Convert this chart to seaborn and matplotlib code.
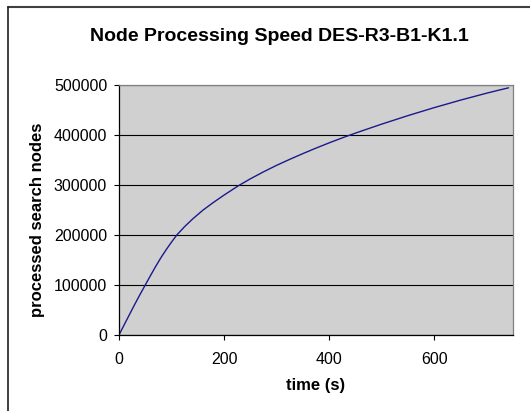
import pandas as pd
import matplotlib
matplotlib.use('Agg')
import matplotlib.pyplot as plt
import seaborn as sns

# values
time_s = [0, 10, 20, 30, 40, 50, 60, 70, 80, 90, 100, 110, 125, 140, 160, 180,
          200, 227, 250, 275, 300, 325, 350, 375, 400, 425, 450, 475, 500, 525,
          550, 575, 600, 625, 650, 675, 700, 725, 741]
nodes = [0, 20500, 41000, 61300, 81000, 100000, 119000, 137500, 155000, 171000,
         186000, 200000, 217000, 232000, 250000, 265500, 280000, 298500, 312500,
         326500, 339500, 351500, 363000, 374000, 384500, 394500, 404000, 413000,
         422000, 430500, 439000, 447000, 455000, 462500, 470000, 477000, 484000,
         490500, 494500]
x_ticks = [0, 200, 400, 600]
y_ticks = [0, 100000, 200000, 300000, 400000, 500000]

data = pd.DataFrame({'time (s)': time_s, 'processed search nodes': nodes})

sns.set_style('white')
plt.rcParams['font.family'] = ['Liberation Sans', 'DejaVu Sans']
plt.rcParams['text.color'] = 'black'

fig = plt.figure(figsize=(5.3, 4.11), dpi=100)
ax = fig.add_axes([0.2245, 0.185, 0.744, 0.608])
ax.set_facecolor('#d0d0d0')

sns.lineplot(data=data, x='time (s)', y='processed search nodes', ax=ax,
             color='#1a1a8c', linewidth=1.0)

ax.set_xlim(0, 750)
ax.set_ylim(0, 500000)
ax.set_xticks(x_ticks)
ax.set_yticks(y_ticks)
ax.set_yticklabels([str(v) for v in y_ticks])
ax.yaxis.grid(True, color='black', linewidth=0.8)
ax.set_axisbelow(True)
ax.tick_params(axis='both', direction='out', length=3.5, width=0.8,
               labelsize=11.5, colors='black', left=True, bottom=True)
ax.tick_params(axis='y', pad=5)
ax.tick_params(axis='x', pad=9)

for side in ['left', 'bottom']:
    ax.spines[side].set_color('black')
    ax.spines[side].set_linewidth(0.9)
for side in ['top', 'right']:
    ax.spines[side].set_color('#808080')
    ax.spines[side].set_linewidth(0.9)

ax.set_xlabel('')
ax.set_ylabel('')
fig.text(0.596, 0.061, 'time (s)', ha='center', va='center', fontsize=12, fontweight='bold')
fig.text(0.07, 0.466, 'processed search nodes', ha='center', va='center',
         rotation=90, fontsize=12, fontweight='bold')
fig.text(0.527, 0.91, 'Node Processing Speed DES-R3-B1-K1.1', ha='center', va='center',
         fontsize=14, fontweight='bold')

# chart frame (top and left edges visible in the reference)
fig.add_artist(plt.Line2D([0.015, 1.0], [0.984, 0.984], color='#404040', linewidth=1.5))
fig.add_artist(plt.Line2D([0.015, 0.015], [0.0, 0.984], color='#202020', linewidth=1.2))

plt.savefig('out.png', dpi=100)
